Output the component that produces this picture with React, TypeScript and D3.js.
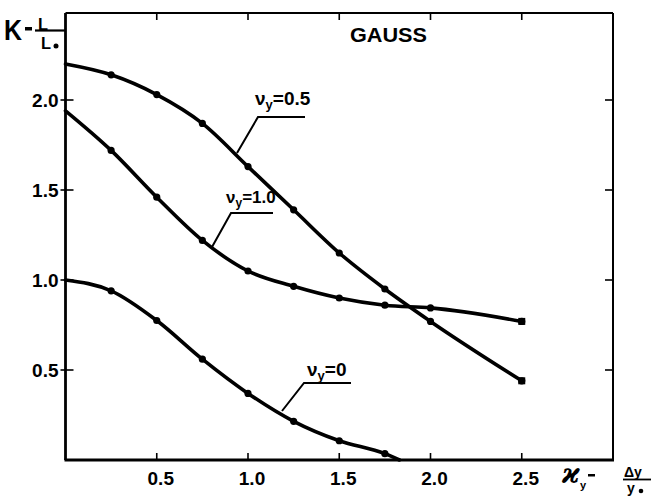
import React from "react";
import * as d3 from "d3";

const xs = [0, 0.25, 0.5, 0.75, 1.0, 1.25, 1.5, 1.75, 2.0, 2.5];
const k05 = [2.2, 2.14, 2.03, 1.87, 1.63, 1.39, 1.15, 0.95, 0.77, 0.44];
const k10 = [1.94, 1.72, 1.46, 1.22, 1.05, 0.965, 0.9, 0.86, 0.845, 0.77];
const xs0 = [0, 0.25, 0.5, 0.75, 1.0, 1.25, 1.5, 1.75, 1.83];
const k0 = [1.0, 0.94, 0.775, 0.56, 0.37, 0.215, 0.107, 0.035, 0.0];
const markerCount0 = 8; // the last point of nu=0 is the axis touch, no marker

const xTicks = [0.5, 1.0, 1.5, 2.0, 2.5];
const xTickLabels = ["0.5", "1.0", "1.5", "2.0", "2.5"];
const yTicks = [0.5, 1.0, 1.5, 2.0];
const yTickLabels = ["0.5", "1.0", "1.5", "2.0"];

const W = 658;
const H = 497;
const L = 65.5, R = 613, T = 13, B = 460;

export default function App() {
  const x = d3.scaleLinear().domain([0, 3]).range([L, R]);
  const y = d3.scaleLinear().domain([0, (B - T) / 180]).range([B, T]);

  const line = d3
    .line<[number, number]>()
    .x((d) => x(d[0]))
    .y((d) => y(d[1]))
    .curve(d3.curveMonotoneX);

  const s05: [number, number][] = xs.map((v, i) => [v, k05[i]]);
  const s10: [number, number][] = xs.map((v, i) => [v, k10[i]]);
  const s0: [number, number][] = xs0.map((v, i) => [v, k0[i]]);

  const font = "'Liberation Sans', Arial, sans-serif";
  const ink = "#000";

  const markers = (pts: [number, number][], n: number) =>
    pts.slice(1, n).map((p, i) => (
      <circle key={i} cx={x(p[0])} cy={y(p[1])} r={3.6} fill={ink} />
    ));

  return (
    <svg
      width={W}
      height={H}
      viewBox={`0 0 ${W} ${H}`}
      style={{ position: "absolute", left: 0, top: 0, background: "#fff" }}
    >
      <rect x={0} y={0} width={W} height={H} fill="#fff" />
      {/* frame */}
      <line x1={L} y1={T} x2={R} y2={T} stroke={ink} strokeWidth={2.2} />
      <line x1={R} y1={T} x2={R} y2={B} stroke={ink} strokeWidth={2} />
      <line x1={L} y1={T} x2={L} y2={B} stroke={ink} strokeWidth={2.8} />
      <line x1={L - 1} y1={B} x2={R + 1} y2={B} stroke={ink} strokeWidth={2.8} />

      {/* x ticks */}
      {xTicks.map((t, i) => (
        <g key={"xt" + i}>
          <line x1={x(t)} y1={B} x2={x(t)} y2={B - 7} stroke={ink} strokeWidth={1.6} />
          <line x1={x(t)} y1={T} x2={x(t)} y2={T + 7} stroke={ink} strokeWidth={1.6} />
          <text
            x={x(t) + 4}
            y={485}
            fontFamily={font}
            fontSize={19}
            fontWeight="bold"
            textAnchor="middle"
            fill={ink}
          >
            {xTickLabels[i]}
          </text>
        </g>
      ))}

      {/* y ticks */}
      {yTicks.map((t, i) => (
        <g key={"yt" + i}>
          <line x1={L - 5} y1={y(t)} x2={L + 8} y2={y(t)} stroke={ink} strokeWidth={1.6} />
          <line x1={R} y1={y(t)} x2={R - 8} y2={y(t)} stroke={ink} strokeWidth={1.6} />
          <text
            x={L - 7}
            y={y(t) + 7}
            fontFamily={font}
            fontSize={19}
            fontWeight="bold"
            textAnchor="end"
            fill={ink}
          >
            {yTickLabels[i]}
          </text>
        </g>
      ))}

      {/* curves */}
      <path d={line(s05) || ""} fill="none" stroke={ink} strokeWidth={3.6} strokeLinecap="round" />
      <path d={line(s10) || ""} fill="none" stroke={ink} strokeWidth={3.6} strokeLinecap="round" />
      <path d={line(s0) || ""} fill="none" stroke={ink} strokeWidth={3.6} strokeLinecap="round" />
      {markers(s05, s05.length)}
      {markers(s10, s10.length)}
      {markers(s0, markerCount0)}
      <rect x={x(2.5) - 3.5} y={y(0.44) - 3.5} width={7} height={7} fill={ink} />
      <rect x={x(2.5) - 3.5} y={y(0.77) - 3.5} width={7} height={7} fill={ink} />

      {/* title */}
      <text x={350} y={42} fontFamily={font} fontSize={21} fontWeight="bold" fill={ink} textLength={77} lengthAdjust="spacingAndGlyphs">
        GAUSS
      </text>

      {/* annotation nu=0.5 */}
      <polyline points="237,153 258,117 305,117" fill="none" stroke={ink} strokeWidth={2} />
      <text x={255} y={105} fontFamily={font} fontSize={19} fontWeight="bold" fill={ink}>
        ν<tspan fontSize={13} dy={4}>y</tspan>
        <tspan dy={-4}>=0.5</tspan>
      </text>

      {/* annotation nu=1.0 */}
      <polyline points="212,247 231,213 273,213" fill="none" stroke={ink} strokeWidth={2} />
      <text x={226} y={203} fontFamily={font} fontSize={17} fontWeight="bold" fill={ink}>
        ν<tspan fontSize={12} dy={4}>y</tspan>
        <tspan dy={-4}>=1.0</tspan>
      </text>

      {/* annotation nu=0 */}
      <polyline points="282,411 304,383 351,383" fill="none" stroke={ink} strokeWidth={2} />
      <text x={307} y={376} fontFamily={font} fontSize={19} fontWeight="bold" fill={ink}>
        ν<tspan fontSize={13} dy={4}>y</tspan>
        <tspan dy={-4}>=0</tspan>
      </text>

      {/* y axis label K = L / L0 */}
      <text x={4} y={40} fontFamily={font} fontSize={29} fontWeight="bold" fill={ink} textLength={18} lengthAdjust="spacingAndGlyphs">
        K
      </text>
      <rect x={25} y={27} width={7} height={3.5} fill={ink} />
      <text x={38} y={30} fontFamily={font} fontSize={17} fontWeight="bold" fill={ink} textLength={10} lengthAdjust="spacingAndGlyphs">
        L
      </text>
      <line x1={35} y1={30.5} x2={L} y2={30.5} stroke={ink} strokeWidth={2.2} />
      <text x={41} y={49} fontFamily={font} fontSize={17} fontWeight="bold" fill={ink} textLength={10} lengthAdjust="spacingAndGlyphs">
        L
      </text>
      <circle cx={56} cy={46} r={2.5} fill={ink} />

      {/* x axis label kappa_y = dy / y0 */}
      <text x={562} y={483} fontFamily="'DejaVu Serif', serif" fontSize={27} fontWeight="bold" fontStyle="italic" fill={ink}>
        ϰ
      </text>
      <text x={580} y={489} fontFamily={font} fontSize={11} fontWeight="bold" fill={ink}>
        y
      </text>
      <rect x={588} y={474} width={7} height={2.5} fill={ink} />
      <text x={624} y={477} fontFamily={font} fontSize={14} fontWeight="bold" fill={ink}>
        Δy
      </text>
      <line x1={623} y1={479.5} x2={651} y2={479.5} stroke={ink} strokeWidth={1.8} />
      <text x={627} y={493} fontFamily={font} fontSize={14} fontWeight="bold" fill={ink}>
        y
      </text>
      <circle cx={641} cy={491} r={2.3} fill={ink} />
    </svg>
  );
}
